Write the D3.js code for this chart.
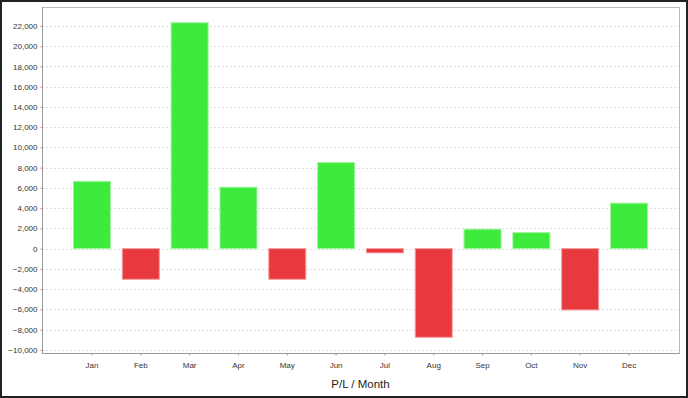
<!DOCTYPE html>
<html>
<head>
<meta charset="utf-8">
<script src="https://cdn.jsdelivr.net/npm/d3@7"></script>
<style>
  body { margin: 0; background: #fff; }
  svg { display: block; font-family: "Liberation Sans", Arial, sans-serif; }
</style>
</head>
<body>
<div id="chart"></div>
<script>
// P/L per month
const months = ['Jan', 'Feb', 'Mar', 'Apr', 'May', 'Jun', 'Jul', 'Aug', 'Sep', 'Oct', 'Nov', 'Dec'];
const profitLoss = [6650, -3030, 22320, 6070, -3030, 8500, -420, -8760, 1920, 1580, -6060, 4490];
const yTicks = [-10000, -8000, -6000, -4000, -2000, 0, 2000, 4000, 6000, 8000, 10000, 12000, 14000, 16000, 18000, 20000, 22000];
const axisTitle = 'P/L / Month';

const W = 688, H = 398;
const plot = { left: 42, right: 679, top: 7, bottom: 353 };

const svg = d3.select('#chart').append('svg')
  .attr('width', W)
  .attr('height', H);

// outer frame
svg.append('rect')
  .attr('x', 1).attr('y', 1)
  .attr('width', W - 2).attr('height', H - 2)
  .attr('fill', '#fff')
  .attr('stroke', '#222')
  .attr('stroke-width', 2);

// 5% margin above and below the data, like the original auto range
const lo = d3.min(profitLoss), hi = d3.max(profitLoss);
const pad = (hi - lo) * 0.05;

const y = d3.scaleLinear()
  .domain([lo - pad, hi + pad])
  .range([plot.bottom, plot.top]);

const x = d3.scaleBand()
  .domain(months)
  .range([plot.left, plot.right])
  .paddingInner(0.242)
  .paddingOuter(0.645);

// plot border (top / right)
svg.append('rect')
  .attr('x', plot.left + 0.5).attr('y', plot.top + 0.5)
  .attr('width', plot.right - plot.left).attr('height', plot.bottom - plot.top)
  .attr('fill', 'none')
  .attr('stroke', '#bbb');

// grid lines
svg.append('g')
  .attr('class', 'grid')
  .selectAll('line')
  .data(yTicks)
  .enter()
  .append('line')
  .attr('x1', plot.left)
  .attr('x2', plot.right)
  .attr('y1', d => Math.round(y(d)) + 0.5)
  .attr('y2', d => Math.round(y(d)) + 0.5)
  .attr('stroke', '#dedede')
  .attr('stroke-dasharray', '2,2');

// bars
svg.append('g')
  .selectAll('rect')
  .data(months)
  .enter()
  .append('rect')
  .attr('x', d => x(d))
  .attr('width', x.bandwidth())
  .attr('y', (d, i) => y(Math.max(0, profitLoss[i])))
  .attr('height', (d, i) => Math.abs(y(profitLoss[i]) - y(0)))
  .attr('fill', (d, i) => profitLoss[i] >= 0 ? '#3eea3c' : '#e8393e')
  .attr('stroke', (d, i) => profitLoss[i] >= 0 ? '#9ef59d' : '#f39c9f')
  .attr('stroke-width', 1);

// y axis
const yAxis = svg.append('g')
  .attr('transform', `translate(${plot.left + 0.5},0)`)
  .call(d3.axisLeft(y).tickValues(yTicks).tickFormat(d3.format(',')).tickSize(2).tickPadding(3));
yAxis.select('.domain').attr('stroke', '#999').attr('d', `M0,${plot.top}V${plot.bottom + 0.5}`);
yAxis.selectAll('.tick line').attr('stroke', '#999');
yAxis.selectAll('text')
  .attr('font-size', '8px')
  .attr('fill', '#333')
  .attr('font-family', '"Liberation Sans", Arial, sans-serif');

// x axis
const xAxis = svg.append('g')
  .attr('transform', `translate(0,${plot.bottom + 0.5})`)
  .call(d3.axisBottom(x).tickSize(2).tickPadding(7));
xAxis.select('.domain').attr('stroke', '#999').attr('d', `M${plot.left},0H${plot.right + 0.5}`);
xAxis.selectAll('.tick line').attr('stroke', '#999');
xAxis.selectAll('text')
  .attr('font-size', '8px')
  .attr('fill', '#333')
  .attr('font-family', '"Liberation Sans", Arial, sans-serif');

// axis title
svg.append('text')
  .attr('x', (plot.left + plot.right) / 2)
  .attr('y', 388)
  .attr('text-anchor', 'middle')
  .attr('font-size', '11.5px')
  .attr('fill', '#222')
  .text(axisTitle);
</script>
</body>
</html>
